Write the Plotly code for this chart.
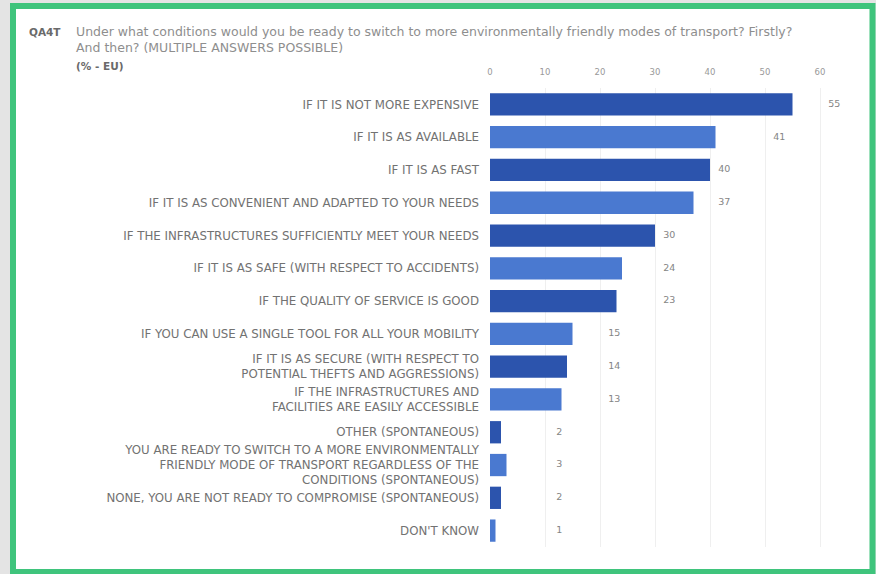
import math
import plotly.graph_objects as go

categories = [
    "IF IT IS NOT MORE EXPENSIVE",
    "IF IT IS AS AVAILABLE",
    "IF IT IS AS FAST",
    "IF IT IS AS CONVENIENT AND ADAPTED TO YOUR NEEDS",
    "IF THE INFRASTRUCTURES SUFFICIENTLY MEET YOUR NEEDS",
    "IF IT IS AS SAFE (WITH RESPECT TO ACCIDENTS)",
    "IF THE QUALITY OF SERVICE IS GOOD",
    "IF YOU CAN USE A SINGLE TOOL FOR ALL YOUR MOBILITY",
    "IF IT IS AS SECURE (WITH RESPECT TO<br>POTENTIAL THEFTS AND AGGRESSIONS)",
    "IF THE INFRASTRUCTURES AND<br>FACILITIES ARE EASILY ACCESSIBLE",
    "OTHER (SPONTANEOUS)",
    "YOU ARE READY TO SWITCH TO A MORE ENVIRONMENTALLY<br>FRIENDLY MODE OF TRANSPORT REGARDLESS OF THE<br>CONDITIONS (SPONTANEOUS)",
    "NONE, YOU ARE NOT READY TO COMPROMISE (SPONTANEOUS)",
    "DON'T KNOW",
]
values = [55, 41, 40, 37, 30, 24, 23, 15, 14, 13, 2, 3, 2, 1]
tick_vals = [0, 10, 20, 30, 40, 50, 60]

DARK = "#2c54ad"
LIGHT = "#4a79d0"
colors = [DARK if i % 2 == 0 else LIGHT for i in range(len(values))]

W, H = 876, 574
L, R, T, B = 490, 23, 88, 27
pw, ph = W - L - R, H - T - B
FONT = "DejaVu Sans"


def px(x):
    return (x - L) / pw


def py(y):
    return 1 - (y - T) / ph


fig = go.Figure()
fig.add_trace(go.Bar(
    x=values, y=categories, orientation="h",
    marker=dict(color=colors, line=dict(width=0)),
    width=0.68, hoverinfo="skip",
))
label_x = [math.ceil(v / 10) * 10 + 2.6 for v in values]
fig.add_trace(go.Scatter(
    x=label_x, y=categories, mode="text",
    text=[str(v) for v in values], textposition="middle center",
    textfont=dict(family=FONT, size=9.5, color="#858585"),
    hoverinfo="skip",
))

shapes = [
    dict(type="rect", xref="paper", yref="paper", layer="below",
         x0=px(13), x1=px(872.5), y0=py(6), y1=py(572),
         fillcolor="white", line=dict(color="#3fc47c", width=6)),
]

annotations = [
    dict(text="<b>QA4T</b>", x=px(27), y=py(32), xref="paper", yref="paper",
         xanchor="left", yanchor="middle", showarrow=False,
         font=dict(family=FONT, size=10.5, color="#6a6a6a")),
    dict(text="Under what conditions would you be ready to switch to more environmentally friendly modes of transport? Firstly?",
         x=px(74), y=py(32), xref="paper", yref="paper",
         xanchor="left", yanchor="middle", showarrow=False,
         font=dict(family=FONT, size=12.5, color="#8e8e8e")),
    dict(text="And then? (MULTIPLE ANSWERS POSSIBLE)",
         x=px(74), y=py(47), xref="paper", yref="paper",
         xanchor="left", yanchor="middle", showarrow=False,
         font=dict(family=FONT, size=12.5, color="#8e8e8e")),
    dict(text="<b>(% - EU)</b>", x=px(74), y=py(66), xref="paper", yref="paper",
         xanchor="left", yanchor="middle", showarrow=False,
         font=dict(family=FONT, size=10.5, color="#6a6a6a")),
]

fig.update_layout(
    width=W, height=H,
    margin=dict(l=L, r=R, t=T, b=B, pad=0),
    paper_bgcolor="#e4e4e4", plot_bgcolor="rgba(0,0,0,0)",
    showlegend=False,
    shapes=shapes, annotations=annotations,
    xaxis=dict(range=[0, 66], side="top", tickvals=tick_vals,
               showgrid=True, gridcolor="#efefef", gridwidth=1,
               zeroline=False, showline=False, ticks="", automargin=False,
               ticklabelstandoff=10,
               tickfont=dict(family=FONT, size=8.5, color="#999999"),
               fixedrange=True),
    yaxis=dict(categoryorder="array", categoryarray=categories,
               range=[len(categories) - 0.5, -0.5], ticks="", showgrid=False,
               automargin=False,
               showline=False, zeroline=False, ticklabelstandoff=10,
               tickfont=dict(family=FONT, size=11.8, color="#727272"),
               fixedrange=True),
)

fig.write_html("out.html")
